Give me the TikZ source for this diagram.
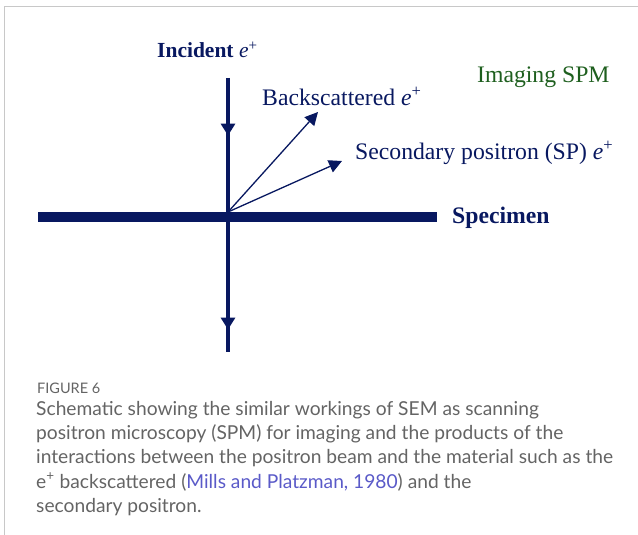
\documentclass[tikz,border=0pt]{standalone}
\usepackage{fontspec}
\setmainfont{Liberation Serif}
\newfontfamily\capfont{Lato}
\usetikzlibrary{arrows.meta,decorations.markings}

\definecolor{navy}{RGB}{8,24,96}
\definecolor{spmgreen}{RGB}{30,95,30}
\definecolor{capgray}{RGB}{100,100,100}
\definecolor{linkblue}{RGB}{90,90,200}
\definecolor{framegray}{RGB}{200,200,200}

\tikzset{
  lbl/.style={text=navy, font=\fontsize{23.7}{28}\selectfont, inner sep=0pt},
  beam/.style={draw=navy, line width=4.5pt},
  ray/.style={draw=navy, line width=1.3pt, -{Triangle[width=13pt,length=13pt]}},
}

\begin{document}
\begin{tikzpicture}[x=1pt,y=-1pt]
        \useasboundingbox (0,0) rectangle (638,535);
        % frame of the figure
        \draw[framegray, line width=1pt] (638,7) -- (4,7) -- (4,535);

        \coordinate (inTop) at (228,78);
        \coordinate (hit) at (228,212);
        \coordinate (outBot) at (228,352);
        \coordinate (bsEnd) at (318,112);
        \coordinate (spEnd) at (342,161);
        \coordinate (barL) at (38,217);
        \coordinate (barR) at (437,217);

        % specimen
        \draw[navy, line width=10pt] (barL) -- (barR);

        % incident and transmitted beam
        \draw[beam, postaction={decorate}, decoration={markings,
            mark=at position 0.43 with {\arrow{Triangle[width=14pt,length=12pt]}}}]
            (inTop) -- (hit);
        \draw[beam, postaction={decorate}, decoration={markings,
            mark=at position 0.84 with {\arrow{Triangle[width=14pt,length=12pt]}}}]
            (hit) -- (outBot);

        % emitted positrons
        \draw[ray] (hit) -- (bsEnd);
        \draw[ray] (hit) -- (spEnd);

        \node[lbl, anchor=west, font=\fontsize{21.5}{25}\selectfont\bfseries] (incident) at (157,50) {Incident \textit{\mdseries e}\textsuperscript{\mdseries +}};
        \node[lbl, anchor=west] (backsc) at (262,96) {Backscattered \textit{e}\textsuperscript{+}};
        \node[lbl, anchor=west] (second) at (355,153) {Secondary positron (SP) \textit{e}\textsuperscript{+}};
        \node[lbl, anchor=west, font=\fontsize{23.7}{28}\selectfont\bfseries] (specimen) at (452,218) {Specimen};
        \node[lbl, anchor=west, text=spmgreen] (imaging) at (477,77) {Imaging SPM};

        % caption
        \node[anchor=west, text=capgray, font=\capfont\fontsize{14.5}{16}\selectfont, inner sep=0pt] (figno) at (37,388) {FIGURE 6};
        \node[anchor=north west, text=capgray, align=left, inner sep=0pt,
              font=\capfont\fontsize{19.2}{24.3}\selectfont] (caption) at (36,401)
            {Schematic showing the similar workings of SEM as scanning\\
             positron microscopy (SPM) for imaging and the products of the\\
             interactions between the positron beam and the material such as the\\
             e\textsuperscript{+} backscattered (\textcolor{linkblue}{Mills and Platzman, 1980}) and the\\
             secondary positron.};
\end{tikzpicture}
\end{document}
